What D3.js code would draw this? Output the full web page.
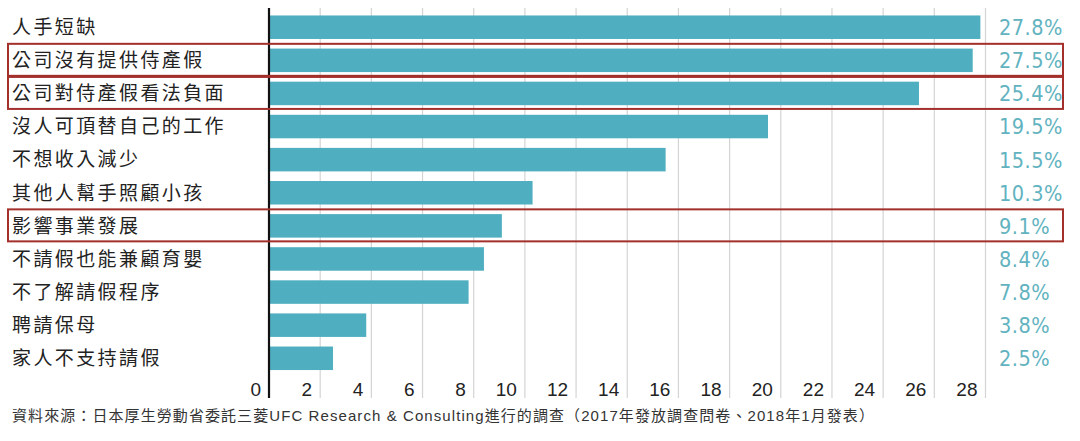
<!DOCTYPE html>
<html><head><meta charset="utf-8">
<script src="https://cdn.jsdelivr.net/npm/d3@7"></script>
<style>
html,body{margin:0;padding:0;background:#fff;}
svg{display:block;}
</style></head>
<body>
<svg id="c" width="1080" height="441"></svg>
<script>
const categories = ["人手短缺","公司沒有提供侍產假","公司對侍產假看法負面","沒人可頂替自己的工作","不想收入減少","其他人幫手照顧小孩","影響事業發展","不請假也能兼顧育嬰","不了解請假程序","聘請保母","家人不支持請假"];
const values = [27.8,27.5,25.4,19.5,15.5,10.3,9.1,8.4,7.8,3.8,2.5];
const valueLabels = ["27.8%","27.5%","25.4%","19.5%","15.5%","10.3%","9.1%","8.4%","7.8%","3.8%","2.5%"];
const tickValues = [0,2,4,6,8,10,12,14,16,18,20,22,24,26,28];
const highlighted = ["公司沒有提供侍產假","公司對侍產假看法負面","影響事業發展"];
const footnote = "資料來源：日本厚生勞動省委託三菱UFC Research & Consulting進行的調查（2017年發放調查問卷、2018年1月發表）";

const svg = d3.select("#c");
const x = d3.scaleLinear().domain([0,28]).range([269,985.5]);
const y = d3.scaleBand().domain(categories).range([10.5,375]).paddingInner(0.29).paddingOuter(0.15);

// gridlines
svg.append("g").selectAll("line").data(tickValues.filter(d=>d>0)).join("line")
  .attr("x1",d=>x(d)).attr("x2",d=>x(d)).attr("y1",8).attr("y2",398)
  .attr("stroke","#d4d4d4").attr("stroke-width",1.2);

// bars
svg.append("g").selectAll("rect").data(values).join("rect")
  .attr("x",x(0)).attr("y",(d,i)=>y(categories[i]))
  .attr("width",d=>x(d)-x(0)).attr("height",y.bandwidth())
  .attr("fill","#4fafc0");

// axis line
svg.append("line").attr("x1",x(0)).attr("x2",x(0)).attr("y1",8).attr("y2",398)
  .attr("stroke","#111").attr("stroke-width",2.2);

// tick labels
svg.append("g").selectAll("text").data(tickValues).join("text")
  .attr("x",d=>x(d)-8).attr("y",396).attr("text-anchor","end")
  .attr("font-family","'Liberation Sans', Arial, sans-serif").attr("font-size",19)
  .attr("fill","#222").text(d=>d);

// category labels
svg.append("g").selectAll("text").data(categories).join("text")
  .attr("x",12).attr("y",d=>y(d)+y.bandwidth()/2).attr("dy","0.36em")
  .attr("font-family","'Noto Sans CJK TC', sans-serif").attr("font-size",19)
  .attr("letter-spacing",2.4)
  .attr("fill","#222").text(d=>d);

// value labels
svg.append("g").selectAll("text").data(valueLabels).join("text")
  .attr("x",999).attr("y",(d,i)=>y(categories[i])+y.bandwidth()/2).attr("dy","0.37em")
  .attr("font-family","'DejaVu Sans Condensed', 'DejaVu Sans', sans-serif").attr("font-size",21.5)
  .attr("letter-spacing",0.5)
  .attr("fill","#62b3bf").text(d=>d);

// highlight boxes
svg.append("g").selectAll("rect").data(highlighted).join("rect")
  .attr("x",8).attr("y",d=>y(d)+y.bandwidth()/2-16.5).attr("width",1055).attr("height",32)
  .attr("fill","none").attr("stroke","#a3302b").attr("stroke-width",2);

// footnote
svg.append("text").attr("x",12).attr("y",421)
  .attr("font-family","'Liberation Sans', 'Noto Sans CJK TC', sans-serif").attr("font-size",15)
  .attr("letter-spacing",1.08)
  .attr("fill","#333").text(footnote);
</script>
</body></html>
